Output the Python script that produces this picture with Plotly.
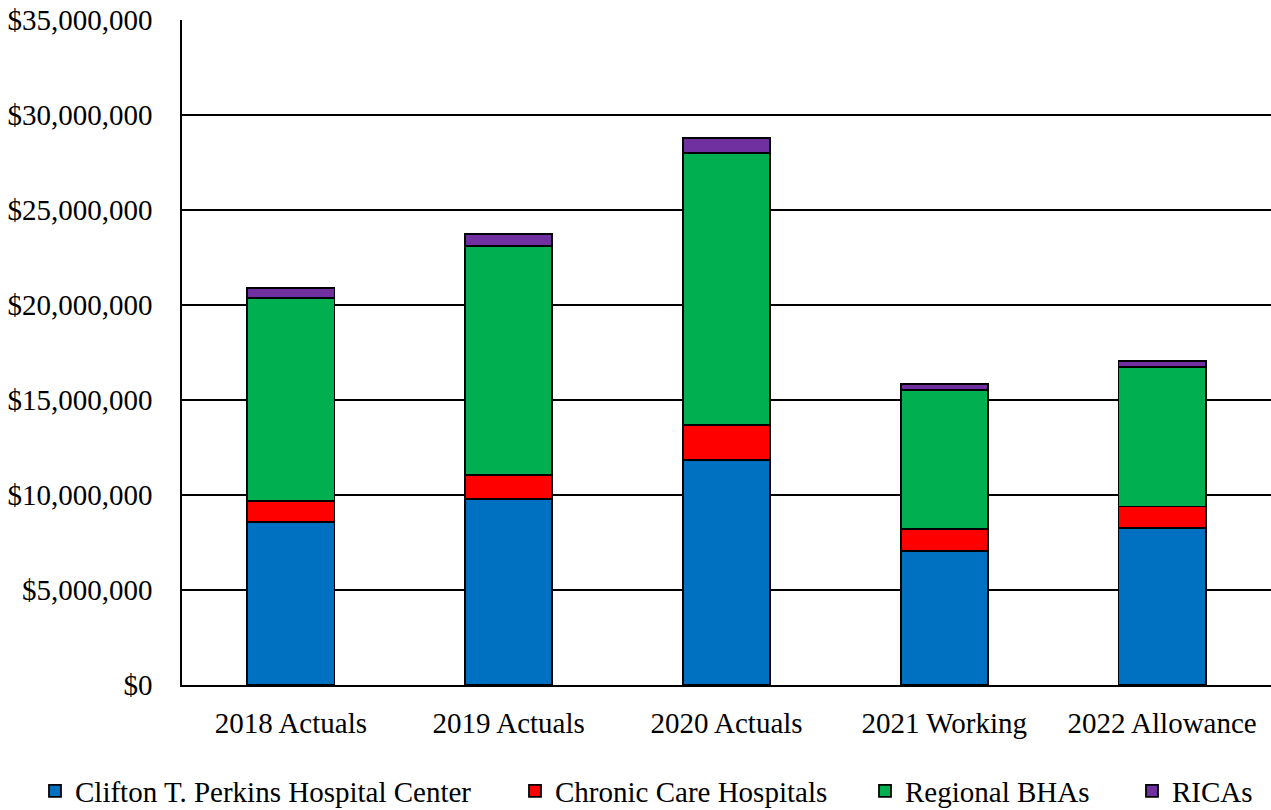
import plotly.graph_objects as go

# Fiscal years on the category axis
years = ["2018 Actuals", "2019 Actuals", "2020 Actuals", "2021 Working", "2022 Allowance"]

# Spending by facility group (dollars)
perkins = [8590000, 9810000, 11840000, 7050000, 8280000]
chronic_care = [1090000, 1240000, 1860000, 1140000, 1120000]
regional_bhas = [10670000, 12070000, 14300000, 7350000, 7350000]
ricas = [530000, 600000, 810000, 300000, 320000]

series = [
    ("Clifton T. Perkins Hospital Center", perkins, "#0070C0"),
    ("Chronic Care Hospitals", chronic_care, "#FF0000"),
    ("Regional BHAs", regional_bhas, "#00B050"),
    ("RICAs", ricas, "#7030A0"),
]

# Left edge (px) of each legend entry's text along the bottom row
legend_text_x = [75, 555, 905, 1172]

W, H = 1271, 810
FONT = "Liberation Serif, Times New Roman, serif"
FS = 29

fig = go.Figure()
legend_layouts = {}
for i, (name, vals, color) in enumerate(series):
    key = "legend" if i == 0 else f"legend{i + 1}"
    fig.add_trace(go.Bar(
        x=years, y=vals, name=name,
        marker=dict(color=color, line=dict(color="black", width=1.8)),
        legend=key,
    ))
    legend_layouts[key] = dict(
        x=(legend_text_x[i] - 40) / W, xref="container", xanchor="left",
        y=1 - 791 / H, yref="container", yanchor="middle",
        orientation="h", itemwidth=30,
        font=dict(family=FONT, size=FS, color="black"),
        bgcolor="rgba(0,0,0,0)", borderwidth=0,
    )

fig.update_layout(
    barmode="stack",
    bargap=0.6,
    width=W, height=H,
    margin=dict(l=182, r=0, t=20, b=125),
    paper_bgcolor="white", plot_bgcolor="white",
    font=dict(family=FONT, size=FS, color="black"),
    showlegend=True,
    **legend_layouts,
)

fig.update_yaxes(
    range=[0, 35000000], dtick=5000000,
    tickprefix="$", tickformat=",.0f",
    showgrid=True, gridcolor="black", gridwidth=1.5,
    showline=True, linecolor="black", linewidth=1.5,
    zeroline=False, ticks="", ticklabelstandoff=22,
    tickfont=dict(family=FONT, size=FS, color="black"),
)
fig.update_xaxes(
    showline=True, linecolor="black", linewidth=1.5,
    ticks="", ticklabelstandoff=11,
    tickfont=dict(family=FONT, size=FS, color="black"),
)

fig.write_html("out.html")
